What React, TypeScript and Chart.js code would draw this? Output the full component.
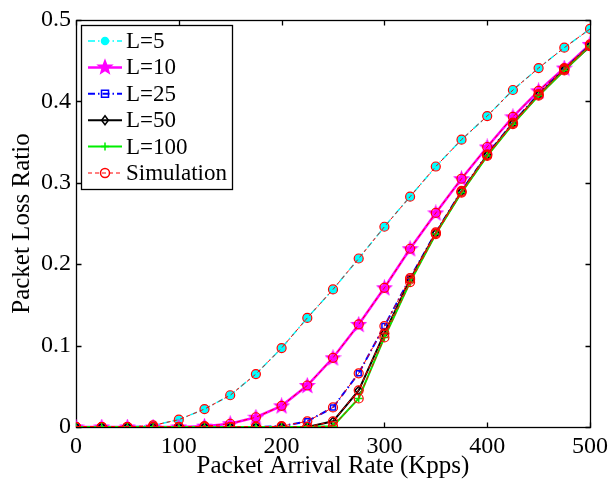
import React, { useEffect, useRef } from 'react';
import { Chart, registerables } from 'chart.js';

Chart.register(...registerables);

// ---- data ----
const arrivalRates = [0, 25, 50, 75, 100, 125, 150, 175, 200, 225, 250, 275, 300, 325, 350, 375, 400, 425, 450, 475, 500];
const lossL5 = [0, 0, 0, 0.002, 0.009, 0.022, 0.039, 0.065, 0.097, 0.134, 0.169, 0.207, 0.246, 0.283, 0.320, 0.353, 0.382, 0.414, 0.441, 0.466, 0.489];
const lossL10 = [0, 0, 0, 0, 0, 0.001, 0.004, 0.012, 0.026, 0.051, 0.085, 0.126, 0.171, 0.219, 0.263, 0.305, 0.344, 0.381, 0.413, 0.441, 0.470];
const lossL25 = [0, 0, 0, 0, 0, 0, 0, 0, 0.001, 0.007, 0.024, 0.066, 0.124, 0.183, 0.239, 0.290, 0.335, 0.374, 0.409, 0.440, 0.469];
const lossL50 = [0, 0, 0, 0, 0, 0, 0, 0, 0, 0, 0.007, 0.045, 0.115, 0.181, 0.238, 0.289, 0.334, 0.373, 0.408, 0.439, 0.468];
const lossL100 = [0, 0, 0, 0, 0, 0, 0, 0, 0, 0, 0.001, 0.035, 0.110, 0.178, 0.237, 0.288, 0.333, 0.372, 0.407, 0.438, 0.468];
// simulation results (coincide with the analytic curves in the figure)
const simL5 = [0, 0, 0, 0.002, 0.009, 0.022, 0.039, 0.065, 0.097, 0.134, 0.169, 0.207, 0.246, 0.283, 0.320, 0.353, 0.382, 0.414, 0.441, 0.466, 0.489];
const simL10 = [0, 0, 0, 0, 0, 0.001, 0.004, 0.012, 0.026, 0.051, 0.085, 0.126, 0.171, 0.219, 0.263, 0.305, 0.344, 0.381, 0.413, 0.441, 0.470];
const simL25 = [0, 0, 0, 0, 0, 0, 0, 0, 0.001, 0.007, 0.024, 0.066, 0.124, 0.183, 0.239, 0.290, 0.335, 0.374, 0.409, 0.440, 0.469];
const simL50 = [0, 0, 0, 0, 0, 0, 0, 0, 0, 0, 0.007, 0.045, 0.115, 0.181, 0.238, 0.289, 0.334, 0.373, 0.408, 0.439, 0.468];
const simL100 = [0, 0, 0, 0, 0, 0, 0, 0, 0, 0, 0.001, 0.035, 0.110, 0.178, 0.237, 0.288, 0.333, 0.372, 0.407, 0.438, 0.468];

const seriesNames = ['L=5', 'L=10', 'L=25', 'L=50', 'L=100', 'Simulation'];
const xTicks = [0, 100, 200, 300, 400, 500];
const yTicks = [0, 0.1, 0.2, 0.3, 0.4, 0.5];

const FONT = "'Liberation Serif', 'Times New Roman', Times, serif";

type MarkerKind = 'circle' | 'star' | 'square' | 'diamond' | 'plus';

interface SeriesStyle {
  color: string;
  width: number;
  dash: number[];
  marker: MarkerKind;
  size: number;
  filled: boolean;
}

const styles: SeriesStyle[] = [
  { color: '#00ffff', width: 1.5, dash: [7, 3, 1.5, 3], marker: 'circle', size: 3.5, filled: true },
  { color: '#ff00ff', width: 2.5, dash: [], marker: 'star', size: 7, filled: true },
  { color: '#0000ff', width: 2, dash: [7, 3, 1.5, 3], marker: 'square', size: 3.5, filled: false },
  { color: '#000000', width: 2, dash: [], marker: 'diamond', size: 4.5, filled: false },
  { color: '#00ee00', width: 2, dash: [], marker: 'plus', size: 4, filled: false },
  { color: '#ff0000', width: 1, dash: [4, 3], marker: 'circle', size: 4.5, filled: false },
];

function drawMarker(ctx: CanvasRenderingContext2D, s: SeriesStyle, x: number, y: number) {
  ctx.save();
  ctx.setLineDash([]);
  ctx.strokeStyle = s.color;
  ctx.fillStyle = s.color;
  ctx.lineWidth = 1.5;
  ctx.beginPath();
  const r = s.size;
  if (s.marker === 'circle') {
    ctx.arc(x, y, r, 0, Math.PI * 2);
  } else if (s.marker === 'star') {
    for (let i = 0; i < 10; i++) {
      const rad = i % 2 === 0 ? r : r * 0.42;
      const a = -Math.PI / 2 + (i * Math.PI) / 5;
      ctx.lineTo(x + rad * Math.cos(a), y + rad * Math.sin(a));
    }
    ctx.closePath();
  } else if (s.marker === 'square') {
    ctx.rect(x - r, y - r, 2 * r, 2 * r);
  } else if (s.marker === 'diamond') {
    ctx.moveTo(x, y - r);
    ctx.lineTo(x + r * 0.75, y);
    ctx.lineTo(x, y + r);
    ctx.lineTo(x - r * 0.75, y);
    ctx.closePath();
  } else {
    ctx.moveTo(x - r, y);
    ctx.lineTo(x + r, y);
    ctx.moveTo(x, y - r);
    ctx.lineTo(x, y + r);
  }
  if (s.filled) ctx.fill();
  ctx.stroke();
  ctx.restore();
}

function makeStarImage(s: SeriesStyle): HTMLCanvasElement {
  const c = document.createElement('canvas');
  const size = Math.ceil(s.size * 2 + 3);
  c.width = size;
  c.height = size;
  const ctx = c.getContext('2d') as CanvasRenderingContext2D;
  drawMarker(ctx, s, size / 2, size / 2 + 0.5);
  return c;
}

const framePlugin = {
  id: 'matlabFrame',
  beforeDatasetsDraw(chart: any) {
    const { ctx, chartArea: a, scales } = chart;
    const xs = scales.x;
    const ys = scales.y;
    const L = Math.round(a.left) + 0.5;
    const R = Math.round(a.right) + 0.5;
    const T = Math.round(a.top) + 0.5;
    const B = Math.round(a.bottom) + 0.5;
    ctx.save();
    ctx.strokeStyle = '#000';
    ctx.lineWidth = 1.3;
    ctx.setLineDash([]);
    ctx.strokeRect(L, T, R - L, B - T);
    ctx.beginPath();
    const tl = 5;
    xTicks.forEach((v) => {
      const px = Math.round(xs.getPixelForValue(v)) + 0.5;
      ctx.moveTo(px, B);
      ctx.lineTo(px, B - tl);
      ctx.moveTo(px, T);
      ctx.lineTo(px, T + tl);
    });
    yTicks.forEach((v) => {
      const py = Math.round(ys.getPixelForValue(v)) + 0.5;
      ctx.moveTo(L, py);
      ctx.lineTo(L + tl, py);
      ctx.moveTo(R, py);
      ctx.lineTo(R - tl, py);
    });
    ctx.stroke();
    ctx.restore();
  },
};

const legendPlugin = {
  id: 'insideLegend',
  afterDraw(chart: any) {
    const { ctx } = chart;
    const bx = 81.5, by = 25.5, bw = 151, bh = 164;
    ctx.save();
    ctx.fillStyle = '#fff';
    ctx.fillRect(bx, by, bw, bh);
    ctx.strokeStyle = '#000';
    ctx.lineWidth = 1.3;
    ctx.setLineDash([]);
    ctx.strokeRect(bx, by, bw, bh);
    seriesNames.forEach((name, i) => {
      const s = styles[i];
      const y = 41 + i * 26.4;
      ctx.save();
      ctx.strokeStyle = s.color;
      ctx.lineWidth = s.width;
      ctx.setLineDash(s.dash);
      ctx.beginPath();
      ctx.moveTo(88, y);
      ctx.lineTo(122, y);
      ctx.stroke();
      ctx.restore();
      drawMarker(ctx, s, 105, y);
      ctx.fillStyle = '#000';
      ctx.font = `23px ${FONT}`;
      ctx.textBaseline = 'middle';
      ctx.textAlign = 'left';
      ctx.fillText(name, 126, y + 1);
    });
    ctx.restore();
  },
};

function toPoints(values: number[]) {
  return arrivalRates.map((x, i) => ({ x, y: values[i] }));
}

export default function App() {
  const canvasRef = useRef<HTMLCanvasElement | null>(null);

  useEffect(() => {
    document.body.style.margin = '0';
    const canvas = canvasRef.current;
    if (!canvas) return;

    const analytic = [lossL5, lossL10, lossL25, lossL50, lossL100];
    const sims = [simL5, simL10, simL25, simL50, simL100];

    const pointStyleFor = (s: SeriesStyle): any => {
      if (s.marker === 'star') return makeStarImage(s);
      if (s.marker === 'square') return 'rect';
      if (s.marker === 'diamond') return 'rectRot';
      if (s.marker === 'plus') return 'cross';
      return 'circle';
    };

    const datasets: any[] = analytic.map((vals, i) => {
      const s = styles[i];
      return {
        label: seriesNames[i],
        data: toPoints(vals),
        borderColor: s.color,
        backgroundColor: s.filled ? s.color : 'rgba(0,0,0,0)',
        borderWidth: s.width,
        borderDash: s.dash,
        pointStyle: pointStyleFor(s),
        pointRadius: s.marker === 'diamond' ? 3.8 : s.size,
        pointBorderColor: s.color,
        pointBackgroundColor: s.filled ? s.color : 'rgba(0,0,0,0)',
        pointBorderWidth: 1.5,
        tension: 0,
        order: 10 - i,
      };
    });
    const simStyle = styles[5];
    sims.forEach((vals, i) => {
      datasets.push({
        label: i === 0 ? seriesNames[5] : `Simulation ${i}`,
        data: toPoints(vals),
        borderColor: simStyle.color,
        backgroundColor: 'rgba(0,0,0,0)',
        borderWidth: simStyle.width,
        borderDash: simStyle.dash,
        pointStyle: 'circle',
        pointRadius: simStyle.size,
        pointBorderColor: simStyle.color,
        pointBackgroundColor: 'rgba(0,0,0,0)',
        pointBorderWidth: 1.2,
        tension: 0,
        order: 1,
      });
    });

    const chart = new Chart(canvas, {
      type: 'line',
      data: { datasets },
      plugins: [framePlugin, legendPlugin],
      options: {
        animation: false,
        responsive: false,
        maintainAspectRatio: false,
        devicePixelRatio: 1,
        layout: { padding: { top: 20, right: 20, left: 0, bottom: 0 } },
        plugins: {
          legend: { display: false },
          tooltip: { enabled: false },
        },
        scales: {
          x: {
            type: 'linear',
            min: 0,
            max: 500,
            afterFit: (scale: any) => {
              scale.height = 54;
            },
            afterBuildTicks: (scale: any) => {
              scale.ticks = xTicks.map((v) => ({ value: v }));
            },
            ticks: {
              color: '#000',
              font: { family: FONT, size: 24 },
              padding: 5,
              maxRotation: 0,
              callback: (v: any) => String(v),
            },
            grid: { display: false, drawTicks: false, tickLength: 0 },
            border: { display: false },
            title: {
              display: true,
              text: 'Packet Arrival Rate (Kpps)',
              color: '#000',
              font: { family: FONT, size: 25 },
              padding: { top: 0, bottom: 0 },
            },
          },
          y: {
            type: 'linear',
            min: 0,
            max: 0.5,
            afterFit: (scale: any) => {
              scale.width = 76;
            },
            afterBuildTicks: (scale: any) => {
              scale.ticks = yTicks.map((v) => ({ value: v }));
            },
            ticks: {
              color: '#000',
              font: { family: FONT, size: 24 },
              padding: 5,
              callback: (v: any) => (Number(v) === 0 ? '0' : Number(v).toFixed(1)),
            },
            grid: { display: false, drawTicks: false, tickLength: 0 },
            border: { display: false },
            title: {
              display: true,
              text: 'Packet Loss Ratio',
              color: '#000',
              font: { family: FONT, size: 25 },
              padding: { top: 7, bottom: 0 },
            },
          },
        },
      },
    });

    return () => chart.destroy();
  }, []);

  return (
    <div style={{ width: 613, height: 481, background: '#fff' }}>
      <canvas ref={canvasRef} width={613} height={481} style={{ display: 'block', width: 613, height: 481 }} />
    </div>
  );
}
